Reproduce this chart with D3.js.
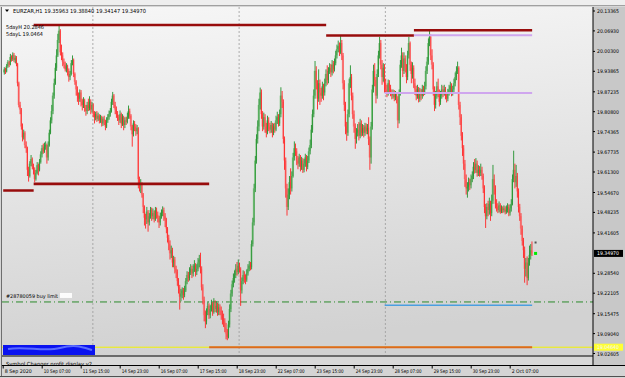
<!DOCTYPE html>
<html lang="en">
<head>
<meta charset="UTF-8">
<title>EURZAR,H1</title>
<script src="https://cdnjs.cloudflare.com/ajax/libs/d3/7.8.5/d3.min.js"></script>
<style>
    body { margin: 0; padding: 0; background: #f0f0f0; overflow: hidden; }
    svg { display: block; font-family: "DejaVu Sans", Tahoma, sans-serif; }
</style>
</head>
<body>
<svg id="chart" width="625" height="378"></svg>
<script>
// ---- data (EURZAR H1, one value per hourly bar) ----
const opens = [
19.935,19.945,19.938,19.955,19.968,19.960,19.985,19.978,19.992,19.975,
19.982,19.962,19.900,19.830,19.815,19.760,19.725,19.740,19.700,19.690,
19.620,19.600,19.640,19.655,19.630,19.620,19.590,19.610,19.635,19.620,
19.645,19.670,19.690,19.680,19.695,19.700,19.660,19.700,19.740,19.780,
19.810,19.860,19.900,19.950,19.990,20.040,20.070,20.000,19.990,19.970,
19.960,19.945,19.955,19.940,19.920,19.930,19.965,19.975,19.930,19.905,
19.880,19.860,19.850,19.870,19.840,19.830,19.845,19.820,19.810,19.830,
19.820,19.840,19.815,19.830,19.800,19.790,19.800,19.785,19.795,19.780,
19.790,19.770,19.785,19.775,19.760,19.780,19.790,19.800,19.810,19.840,
19.860,19.830,19.815,19.800,19.790,19.780,19.800,19.770,19.790,19.765,
19.780,19.775,19.790,19.810,19.795,19.760,19.735,19.770,19.760,19.745,
19.755,19.590,19.570,19.575,19.540,19.500,19.465,19.460,19.485,19.450,
19.470,19.490,19.470,19.480,19.460,19.490,19.475,19.465,19.450,19.470,
19.480,19.490,19.470,19.460,19.430,19.400,19.380,19.350,19.360,19.320,
19.330,19.300,19.290,19.260,19.240,19.210,19.220,19.230,19.215,19.230,
19.260,19.280,19.270,19.290,19.300,19.285,19.300,19.310,19.290,19.300,
19.320,19.330,19.300,19.240,19.200,19.150,19.130,19.160,19.180,19.150,
19.170,19.185,19.160,19.190,19.170,19.180,19.160,19.175,19.165,19.150,
19.140,19.130,19.110,19.090,19.080,19.120,19.170,19.220,19.250,19.270,
19.280,19.300,19.290,19.310,19.300,19.230,19.260,19.280,19.270,19.265,
19.285,19.300,19.310,19.305,19.380,19.450,19.560,19.650,19.720,19.760,
19.830,19.870,19.800,19.760,19.790,19.760,19.740,19.780,19.760,19.750,
19.765,19.740,19.760,19.750,19.780,19.790,19.770,19.800,19.860,19.840,
19.720,19.650,19.560,19.500,19.540,19.580,19.560,19.600,19.660,19.690,
19.680,19.650,19.640,19.660,19.630,19.650,19.620,19.640,19.660,19.630,
19.650,19.680,19.700,19.750,19.800,19.860,19.940,19.900,19.850,19.900,
19.870,19.860,19.890,19.870,19.900,19.930,19.910,19.940,19.950,19.935,
19.960,19.945,19.965,19.990,20.010,20.020,20.000,20.030,19.990,19.900,
19.830,19.760,19.740,19.800,19.900,19.920,19.860,19.800,19.760,19.720,
19.740,19.750,19.730,19.770,19.740,19.755,19.740,19.760,19.745,19.755,
19.720,19.660,19.760,19.880,19.940,19.910,19.860,19.930,19.990,20.030,
19.960,19.920,19.950,19.900,19.880,19.870,19.900,19.885,19.870,19.860,
19.870,19.855,19.865,19.850,19.780,19.870,19.960,19.990,19.940,19.980,
19.950,19.920,19.990,20.030,19.960,19.930,19.950,19.900,19.880,19.860,
19.880,19.850,19.870,19.860,19.880,19.870,19.890,19.940,19.970,20.030,
20.050,19.990,19.960,19.880,19.830,19.860,19.890,19.870,19.840,19.860,
19.880,19.870,19.880,19.860,19.850,19.870,19.880,19.890,19.870,19.880,
19.900,19.920,19.940,19.950,19.830,19.790,19.730,19.690,19.640,19.590,
19.560,19.565,19.580,19.570,19.590,19.600,19.630,19.620,19.640,19.610,
19.620,19.610,19.620,19.600,19.560,19.500,19.470,19.500,19.490,19.510,
19.480,19.520,19.590,19.560,19.510,19.500,19.490,19.505,19.485,19.495,
19.490,19.495,19.485,19.490,19.500,19.480,19.495,19.510,19.590,19.620,
19.580,19.600,19.550,19.500,19.470,19.430,19.390,19.360,19.300,19.320,
19.270,19.320,19.345,19.3596];

const highs = [
19.952,19.950,19.962,19.975,19.972,19.995,19.990,20.000,19.998,19.990,
19.988,19.966,19.905,19.840,19.820,19.770,19.750,19.745,19.712,19.695,
19.630,19.648,19.668,19.660,19.640,19.628,19.620,19.645,19.640,19.655,
19.680,19.700,19.705,19.708,19.712,19.705,19.712,19.750,19.790,19.830,
19.870,19.915,19.965,20.010,20.060,20.089,20.075,20.025,20.000,19.980,
19.970,19.965,19.960,19.948,19.940,19.975,19.990,19.980,19.935,19.910,
19.890,19.870,19.880,19.878,19.850,19.855,19.850,19.830,19.840,19.850,
19.858,19.848,19.840,19.835,19.810,19.808,19.810,19.805,19.800,19.798,
19.795,19.792,19.795,19.782,19.790,19.800,19.812,19.820,19.850,19.872,
19.865,19.840,19.825,19.810,19.798,19.812,19.805,19.800,19.795,19.790,
19.792,19.805,19.828,19.818,19.800,19.765,19.780,19.778,19.768,19.765,
19.758,19.598,19.590,19.580,19.545,19.505,19.478,19.500,19.490,19.480,
19.500,19.498,19.495,19.488,19.500,19.498,19.485,19.472,19.482,19.492,
19.502,19.498,19.480,19.465,19.435,19.410,19.392,19.375,19.368,19.342,
19.338,19.310,19.298,19.270,19.248,19.235,19.240,19.238,19.245,19.270,
19.292,19.290,19.305,19.315,19.310,19.315,19.328,19.318,19.315,19.335,
19.345,19.352,19.308,19.250,19.210,19.165,19.172,19.195,19.188,19.182,
19.200,19.192,19.205,19.198,19.195,19.190,19.188,19.185,19.178,19.165,
19.155,19.140,19.125,19.105,19.132,19.185,19.232,19.262,19.285,19.295,
19.315,19.322,19.330,19.320,19.305,19.272,19.295,19.292,19.282,19.298,
19.315,19.325,19.322,19.392,19.465,19.575,19.665,19.735,19.780,19.850,
19.886,19.880,19.810,19.805,19.800,19.772,19.795,19.790,19.772,19.778,
19.772,19.770,19.772,19.795,19.808,19.800,19.815,19.887,19.875,19.848,
19.728,19.660,19.575,19.560,19.600,19.625,19.615,19.675,19.712,19.705,
19.690,19.665,19.672,19.668,19.662,19.658,19.655,19.672,19.668,19.665,
19.692,19.718,19.765,19.815,19.880,19.972,19.955,19.910,19.945,19.912,
19.885,19.905,19.898,19.915,19.945,19.958,19.952,19.965,19.962,19.975,
19.972,19.980,20.005,20.025,20.038,20.032,20.053,20.040,19.998,19.910,
19.840,19.775,19.815,19.915,19.958,19.930,19.870,19.812,19.770,19.755,
19.768,19.775,19.785,19.780,19.768,19.765,19.772,19.770,19.768,19.790,
19.728,19.775,19.895,19.960,19.965,19.920,19.945,20.005,20.050,20.040,
19.975,19.965,19.962,19.915,19.895,19.912,19.910,19.895,19.880,19.880,
19.878,19.875,19.872,19.858,19.880,19.975,20.015,20.000,20.000,19.990,
19.962,20.005,20.050,20.035,19.970,19.968,19.958,19.915,19.892,19.895,
19.888,19.885,19.882,19.895,19.892,19.905,19.955,19.985,20.045,20.069,
20.058,20.010,19.968,19.890,19.875,19.905,19.915,19.880,19.875,19.895,
19.892,19.895,19.888,19.872,19.882,19.895,19.905,19.900,19.892,19.915,
19.935,19.955,19.970,19.955,19.840,19.800,19.742,19.700,19.652,19.605,
19.580,19.595,19.592,19.605,19.615,19.645,19.655,19.658,19.650,19.635,
19.632,19.640,19.630,19.608,19.570,19.510,19.512,19.520,19.530,19.520,
19.540,19.636,19.605,19.570,19.525,19.512,19.518,19.512,19.505,19.502,
19.505,19.502,19.505,19.512,19.508,19.508,19.525,19.605,19.682,19.640,
19.636,19.610,19.560,19.510,19.480,19.440,19.400,19.372,19.335,19.340,
19.335,19.375,19.380,19.3884];

const lows = [
19.928,19.930,19.935,19.950,19.952,19.958,19.970,19.972,19.968,19.965,
19.955,19.890,19.822,19.800,19.750,19.712,19.718,19.690,19.675,19.600,
19.582,19.595,19.632,19.622,19.605,19.580,19.585,19.605,19.602,19.615,
19.640,19.660,19.672,19.675,19.685,19.640,19.650,19.695,19.735,19.770,
19.800,19.850,19.895,19.940,19.985,20.030,19.990,19.975,19.955,19.948,
19.938,19.935,19.925,19.905,19.910,19.925,19.958,19.920,19.895,19.860,
19.840,19.830,19.840,19.825,19.812,19.820,19.808,19.795,19.800,19.810,
19.812,19.800,19.805,19.790,19.770,19.780,19.775,19.778,19.770,19.772,
19.760,19.762,19.765,19.748,19.755,19.772,19.782,19.792,19.805,19.830,
19.820,19.800,19.788,19.778,19.765,19.772,19.755,19.762,19.748,19.755,
19.765,19.770,19.785,19.785,19.748,19.695,19.728,19.745,19.730,19.735,
19.560,19.550,19.545,19.530,19.480,19.440,19.430,19.445,19.420,19.440,
19.462,19.455,19.460,19.450,19.455,19.462,19.450,19.432,19.440,19.462,
19.470,19.455,19.435,19.415,19.385,19.360,19.330,19.335,19.305,19.305,
19.285,19.270,19.245,19.220,19.168,19.195,19.205,19.200,19.208,19.225,
19.250,19.258,19.262,19.280,19.270,19.275,19.290,19.275,19.280,19.292,
19.305,19.285,19.230,19.185,19.130,19.108,19.120,19.150,19.138,19.140,
19.162,19.148,19.155,19.160,19.158,19.148,19.150,19.150,19.135,19.120,
19.112,19.095,19.072,19.069,19.075,19.110,19.160,19.210,19.240,19.255,
19.270,19.278,19.282,19.288,19.180,19.220,19.250,19.255,19.250,19.258,
19.278,19.292,19.295,19.298,19.372,19.440,19.548,19.640,19.705,19.745,
19.815,19.785,19.745,19.750,19.740,19.725,19.735,19.745,19.738,19.740,
19.725,19.732,19.740,19.745,19.768,19.760,19.762,19.790,19.820,19.705,
19.620,19.530,19.472,19.490,19.525,19.540,19.550,19.595,19.650,19.665,
19.635,19.622,19.630,19.615,19.620,19.610,19.612,19.630,19.615,19.622,
19.642,19.670,19.690,19.740,19.790,19.850,19.880,19.815,19.840,19.830,
19.840,19.850,19.845,19.860,19.890,19.895,19.900,19.930,19.920,19.925,
19.932,19.938,19.958,19.980,20.000,19.988,19.995,19.975,19.880,19.810,
19.735,19.714,19.730,19.790,19.885,19.845,19.785,19.740,19.688,19.705,
19.728,19.715,19.722,19.728,19.730,19.725,19.730,19.735,19.735,19.700,
19.620,19.640,19.750,19.870,19.890,19.835,19.850,19.920,19.980,19.945,
19.895,19.905,19.870,19.865,19.855,19.860,19.870,19.858,19.848,19.850,
19.842,19.845,19.835,19.755,19.770,19.860,19.950,19.920,19.930,19.935,
19.900,19.910,19.980,19.940,19.900,19.915,19.885,19.862,19.845,19.850,
19.838,19.840,19.845,19.850,19.858,19.862,19.880,19.930,19.960,20.020,
19.975,19.945,19.860,19.810,19.818,19.850,19.855,19.825,19.830,19.850,
19.855,19.860,19.848,19.838,19.842,19.860,19.868,19.858,19.860,19.870,
19.890,19.910,19.930,19.815,19.765,19.715,19.665,19.620,19.565,19.540,
19.530,19.550,19.555,19.560,19.580,19.590,19.608,19.610,19.598,19.600,
19.598,19.600,19.588,19.545,19.480,19.432,19.460,19.470,19.475,19.455,
19.470,19.510,19.540,19.495,19.485,19.480,19.482,19.478,19.480,19.480,
19.482,19.476,19.478,19.482,19.470,19.472,19.485,19.505,19.580,19.560,
19.565,19.530,19.482,19.455,19.410,19.375,19.335,19.255,19.275,19.247,
19.262,19.310,19.330,19.3415];

const closes = [
19.945,19.938,19.955,19.968,19.960,19.985,19.978,19.992,19.975,19.982,
19.962,19.900,19.830,19.815,19.760,19.725,19.740,19.700,19.690,19.620,
19.600,19.640,19.655,19.630,19.620,19.590,19.610,19.635,19.620,19.645,
19.670,19.690,19.680,19.695,19.700,19.660,19.700,19.740,19.780,19.810,
19.860,19.900,19.950,19.990,20.040,20.070,20.000,19.990,19.970,19.960,
19.945,19.955,19.940,19.920,19.930,19.965,19.975,19.930,19.905,19.880,
19.860,19.850,19.870,19.840,19.830,19.845,19.820,19.810,19.830,19.820,
19.840,19.815,19.830,19.800,19.790,19.800,19.785,19.795,19.780,19.790,
19.770,19.785,19.775,19.760,19.780,19.790,19.800,19.810,19.840,19.860,
19.830,19.815,19.800,19.790,19.780,19.800,19.770,19.790,19.765,19.780,
19.775,19.790,19.810,19.795,19.760,19.735,19.770,19.760,19.745,19.755,
19.590,19.570,19.575,19.540,19.500,19.465,19.460,19.485,19.450,19.470,
19.490,19.470,19.480,19.460,19.490,19.475,19.465,19.450,19.470,19.480,
19.490,19.470,19.460,19.430,19.400,19.380,19.350,19.360,19.320,19.330,
19.300,19.290,19.260,19.240,19.210,19.220,19.230,19.215,19.230,19.260,
19.280,19.270,19.290,19.300,19.285,19.300,19.310,19.290,19.300,19.320,
19.330,19.300,19.240,19.200,19.150,19.130,19.160,19.180,19.150,19.170,
19.185,19.160,19.190,19.170,19.180,19.160,19.175,19.165,19.150,19.140,
19.130,19.110,19.090,19.080,19.120,19.170,19.220,19.250,19.270,19.280,
19.300,19.290,19.310,19.300,19.230,19.260,19.280,19.270,19.265,19.285,
19.300,19.310,19.305,19.380,19.450,19.560,19.650,19.720,19.760,19.830,
19.870,19.800,19.760,19.790,19.760,19.740,19.780,19.760,19.750,19.765,
19.740,19.760,19.750,19.780,19.790,19.770,19.800,19.860,19.840,19.720,
19.650,19.560,19.500,19.540,19.580,19.560,19.600,19.660,19.690,19.680,
19.650,19.640,19.660,19.630,19.650,19.620,19.640,19.660,19.630,19.650,
19.680,19.700,19.750,19.800,19.860,19.940,19.900,19.850,19.900,19.870,
19.860,19.890,19.870,19.900,19.930,19.910,19.940,19.950,19.935,19.960,
19.945,19.965,19.990,20.010,20.020,20.000,20.030,19.990,19.900,19.830,
19.760,19.740,19.800,19.900,19.920,19.860,19.800,19.760,19.720,19.740,
19.750,19.730,19.770,19.740,19.755,19.740,19.760,19.745,19.755,19.720,
19.660,19.760,19.880,19.940,19.910,19.860,19.930,19.990,20.030,19.960,
19.920,19.950,19.900,19.880,19.870,19.900,19.885,19.870,19.860,19.870,
19.855,19.865,19.850,19.780,19.870,19.960,19.990,19.940,19.980,19.950,
19.920,19.990,20.030,19.960,19.930,19.950,19.900,19.880,19.860,19.880,
19.850,19.870,19.860,19.880,19.870,19.890,19.940,19.970,20.030,20.050,
19.990,19.960,19.880,19.830,19.860,19.890,19.870,19.840,19.860,19.880,
19.870,19.880,19.860,19.850,19.870,19.880,19.890,19.870,19.880,19.900,
19.920,19.940,19.950,19.830,19.790,19.730,19.690,19.640,19.590,19.560,
19.565,19.580,19.570,19.590,19.600,19.630,19.620,19.640,19.610,19.620,
19.610,19.620,19.600,19.560,19.500,19.470,19.500,19.490,19.510,19.480,
19.520,19.590,19.560,19.510,19.500,19.490,19.505,19.485,19.495,19.490,
19.495,19.485,19.490,19.500,19.480,19.495,19.510,19.590,19.620,19.580,
19.600,19.550,19.500,19.470,19.430,19.390,19.360,19.300,19.320,19.270,
19.320,19.345,19.3596,19.3497];

// time axis labels, every 32 bars
const timeLabels = ["8 Sep 2020","10 Sep 07:00","11 Sep 15:00","14 Sep 23:00","16 Sep 07:00",
    "17 Sep 15:00","18 Sep 23:00","22 Sep 07:00","23 Sep 15:00","24 Sep 23:00",
    "28 Sep 07:00","29 Sep 15:00","30 Sep 23:00","2 Oct 07:00"];
const timeLabelBars = [0,32,64,96,128,160,192,224,256,288,320,352,384,416];
// weekly separators (Monday 00:00 bars)
const weekStartBars = [73,193,313];

// price scale labels
const priceTicks = [20.13365,20.06930,20.00300,19.93865,19.87235,19.80800,19.74365,19.67735,
    19.61300,19.54670,19.48235,19.41605,19.28540,19.22105,19.15475,19.09040,19.02605];

const symbolTitle = "EURZAR,H1";
const lastBarOHLC = ["19.35963","19.38840","19.34147","19.34970"];
const lastPrice = 19.34970;
const fiveDayHigh = 20.2846;
const fiveDayLow = 19.0464;
const buyLimitPrice = 19.1927;
const buyLimitTicket = "#28780059 buy limit";
const askMarker = 19.3850;

// horizontal level segments drawn by indicators
const levelPrices = [19.5530, 19.5746, 20.0885, 20.0546, 20.0714, 19.0464, 20.0553, 19.8682, 19.1820];
const levelFrom   = [0,   25,  25,  265, 337, 169, 337, 313, 313];
const levelTo     = [25,  169, 265, 337, 434, 434, 434, 434, 434];
const levelKind   = ["range","range","range","range","range","low","pivot","pivot","support"];

// ---- layout ----
const W = 625, H = 378;
const plot = { left: 2, right: 593, top: 7, bottom: 355.5 };
const svg = d3.select("#chart");

const x = d3.scaleLinear().domain([0, 32]).range([3.2, 42.2]);
const y = d3.scaleLinear().domain([19.02605, 20.13365]).range([353.5, 11]);

const defs = svg.append("defs");
const grad = defs.append("linearGradient").attr("id", "bg").attr("x1", 0).attr("y1", 0).attr("x2", 0.15).attr("y2", 1);
grad.append("stop").attr("offset", "0%").attr("stop-color", "#f7f7f7");
grad.append("stop").attr("offset", "100%").attr("stop-color", "#d2d2d2");
defs.append("clipPath").attr("id", "clip").append("rect")
    .attr("x", plot.left).attr("y", plot.top)
    .attr("width", plot.right - plot.left).attr("height", plot.bottom - plot.top);

// frame and toolbar strip
svg.append("rect").attr("width", W).attr("height", H).attr("fill", "#d6d6d6");
svg.append("rect").attr("width", W).attr("height", 5).attr("fill", "#eeeeee");
svg.append("rect").attr("x", 0).attr("y", 5).attr("width", W).attr("height", 1).attr("fill", "#a0a0a0");

// main plot background
svg.append("rect").attr("x", plot.left).attr("y", plot.top)
    .attr("width", plot.right - plot.left).attr("height", plot.bottom - plot.top)
    .attr("fill", "url(#bg)");
// indicator sub-window and time axis strip
svg.append("rect").attr("x", plot.left).attr("y", 356.5).attr("width", plot.right - plot.left).attr("height", 8.5).attr("fill", "#d8d8d8");
svg.append("rect").attr("x", plot.left).attr("y", 365.5).attr("width", W - plot.left).attr("height", 11).attr("fill", "#d4d4d4");
// price axis strip
svg.append("rect").attr("x", plot.right).attr("y", plot.top).attr("width", W - plot.right).attr("height", 358.5).attr("fill", "#c8c8c8");

const g = svg.append("g").attr("clip-path", "url(#clip)");

// weekly separators
g.selectAll(".sep").data(weekStartBars).join("line")
    .attr("x1", d => x(d) + 0.7).attr("x2", d => x(d) + 0.7)
    .attr("y1", plot.top).attr("y2", plot.bottom)
    .attr("stroke", "#9a9a9a").attr("stroke-width", 0.8).attr("stroke-dasharray", "2,2");

// 5 day low line (yellow)
g.append("line").attr("x1", plot.left).attr("x2", plot.right)
    .attr("y1", y(fiveDayLow)).attr("y2", y(fiveDayLow))
    .attr("stroke", "#f2f200").attr("stroke-width", 1);

// buy limit order line
g.append("line").attr("x1", plot.left).attr("x2", plot.right)
    .attr("y1", y(buyLimitPrice)).attr("y2", y(buyLimitPrice))
    .attr("stroke", "#2b8a2b").attr("stroke-width", 1).attr("stroke-dasharray", "7,3,1,3");

// candles
const bars = d3.range(closes.length);
const bull = i => closes[i] >= opens[i];
g.selectAll(".body").data(bars).join("rect")
    .attr("x", i => x(i) - 0.2)
    .attr("width", 1.8)
    .attr("y", i => y(Math.max(opens[i], closes[i])))
    .attr("height", i => Math.max(1, Math.abs(y(opens[i]) - y(closes[i]))))
    .attr("fill", i => bull(i) ? "#8fca8f" : "#f5a3a3");
g.selectAll(".wick").data(bars).join("rect")
    .attr("x", i => x(i) + 0.6)
    .attr("width", 0.9)
    .attr("y", i => y(highs[i]))
    .attr("height", i => Math.max(1, y(lows[i]) - y(highs[i])))
    .attr("fill", i => bull(i) ? "#23912f" : "#ff2626");

// indicator level segments
const levelStyle = {
    range:   { color: "#980c0c", width: 2.6 },
    low:     { color: "#dd6a1c", width: 2 },
    pivot:   { color: "#cfa6ee", width: 2 },
    support: { color: "#4a9fe0", width: 1.5 }
};
g.selectAll(".level").data(levelPrices.map((p, i) => i)).join("line")
    .attr("x1", i => x(levelFrom[i])).attr("x2", i => x(levelTo[i]))
    .attr("y1", i => y(levelPrices[i])).attr("y2", i => y(levelPrices[i]))
    .attr("stroke", i => levelStyle[levelKind[i]].color)
    .attr("stroke-width", i => levelStyle[levelKind[i]].width);

// price markers right of the last bar
g.append("rect").attr("x", x(436)).attr("y", y(askMarker) - 1).attr("width", 2).attr("height", 2).attr("fill", "#555555");
g.append("rect").attr("x", x(436) - 0.5).attr("y", y(lastPrice) - 1.5).attr("width", 3).attr("height", 3).attr("fill", "#00ee00");

// hidden (scribbled) panel at bottom left
g.append("rect").attr("x", 3).attr("y", 345).attr("width", 92).attr("height", 10).attr("fill", "#0a12f0");
g.append("path").attr("d", "M8,349 C25,346 45,352 60,348 S82,347 92,350")
    .attr("stroke", "#5a6cff").attr("stroke-width", 2).attr("fill", "none");

// texts in the main window
const txt = (sx, sy, s, size, len, color) => svg.append("text")
    .attr("x", sx).attr("y", sy).attr("font-size", size).attr("fill", color || "#000")
    .attr("textLength", len).attr("lengthAdjust", "spacingAndGlyphs").text(s);

svg.append("path").attr("d", "M5,9.5 L9,9.5 L7,12 Z").attr("fill", "#000");
txt(13, 13, symbolTitle + "  " + lastBarOHLC.join(" "), 5.6, 133);
txt(6, 29, "5dayH " + fiveDayHigh.toFixed(4), 5.4, 38);
txt(6, 36, "5dayL " + fiveDayLow.toFixed(4), 5.4, 37);
txt(6, y(buyLimitPrice) - 3.5, buyLimitTicket, 5.2, 52);
svg.append("rect").attr("x", 60).attr("y", y(buyLimitPrice) - 9).attr("width", 12).attr("height", 5)
    .attr("fill", "#ffffff").attr("opacity", 0.9);

// borders
svg.append("line").attr("x1", plot.left - 0.5).attr("x2", plot.left - 0.5).attr("y1", plot.top).attr("y2", 376)
    .attr("stroke", "#6e6e6e");
svg.append("line").attr("x1", plot.right).attr("x2", plot.right).attr("y1", plot.top).attr("y2", 365)
    .attr("stroke", "#000").attr("stroke-width", 1);
svg.append("line").attr("x1", plot.left).attr("x2", plot.right).attr("y1", 356).attr("y2", 356)
    .attr("stroke", "#000").attr("stroke-width", 1);
svg.append("line").attr("x1", plot.left).attr("x2", W).attr("y1", 365.5).attr("y2", 365.5)
    .attr("stroke", "#000").attr("stroke-width", 1);
svg.append("line").attr("x1", 0).attr("x2", W).attr("y1", 376.5).attr("y2", 376.5)
    .attr("stroke", "#505050").attr("stroke-width", 1);

// indicator sub-window caption (cut off by the window edge)
svg.append("clipPath").attr("id", "subclip").append("rect").attr("x", plot.left).attr("y", 356.5).attr("width", 200).attr("height", 8.5);
svg.append("text").attr("clip-path", "url(#subclip)").attr("x", 6).attr("y", 366).attr("font-size", 5.6)
    .attr("textLength", 86).attr("lengthAdjust", "spacingAndGlyphs").text("Symbol Changer profit display v2");

// time axis
const tx = svg.append("g");
tx.selectAll("line").data(timeLabelBars).join("line")
    .attr("x1", d => x(d)).attr("x2", d => x(d)).attr("y1", 365.5).attr("y2", 368.5)
    .attr("stroke", "#000");
tx.selectAll("text").data(timeLabels).join("text")
    .attr("x", (d, i) => x(timeLabelBars[i]) + 1.5).attr("y", 372.5)
    .attr("font-size", 5.2).attr("textLength", 27).attr("lengthAdjust", "spacingAndGlyphs")
    .text(d => d);

// price axis
const py = svg.append("g");
py.selectAll("line").data(priceTicks).join("line")
    .attr("x1", plot.right).attr("x2", plot.right + 2)
    .attr("y1", d => y(d)).attr("y2", d => y(d)).attr("stroke", "#000");
py.selectAll("text").data(priceTicks).join("text")
    .attr("x", plot.right + 4).attr("y", d => y(d) + 2)
    .attr("font-size", 5.2).attr("textLength", 22).attr("lengthAdjust", "spacingAndGlyphs")
    .text(d => d.toFixed(5));

// current price and 5-day low labels on the axis
py.append("rect").attr("x", plot.right + 1).attr("y", y(lastPrice) - 3.5).attr("width", 29).attr("height", 7).attr("fill", "#000");
py.append("text").attr("x", plot.right + 4).attr("y", y(lastPrice) + 2).attr("font-size", 5.2)
    .attr("textLength", 22).attr("lengthAdjust", "spacingAndGlyphs").attr("fill", "#fff").text(lastPrice.toFixed(5));
py.append("rect").attr("x", plot.right + 1).attr("y", y(fiveDayLow) - 3.5).attr("width", 29).attr("height", 7).attr("fill", "#ffff33");
py.append("text").attr("x", plot.right + 4).attr("y", y(fiveDayLow) + 2).attr("font-size", 5.2)
    .attr("textLength", 22).attr("lengthAdjust", "spacingAndGlyphs").attr("fill", "#f4f4f4").text(fiveDayLow.toFixed(5));
</script>
</body>
</html>
